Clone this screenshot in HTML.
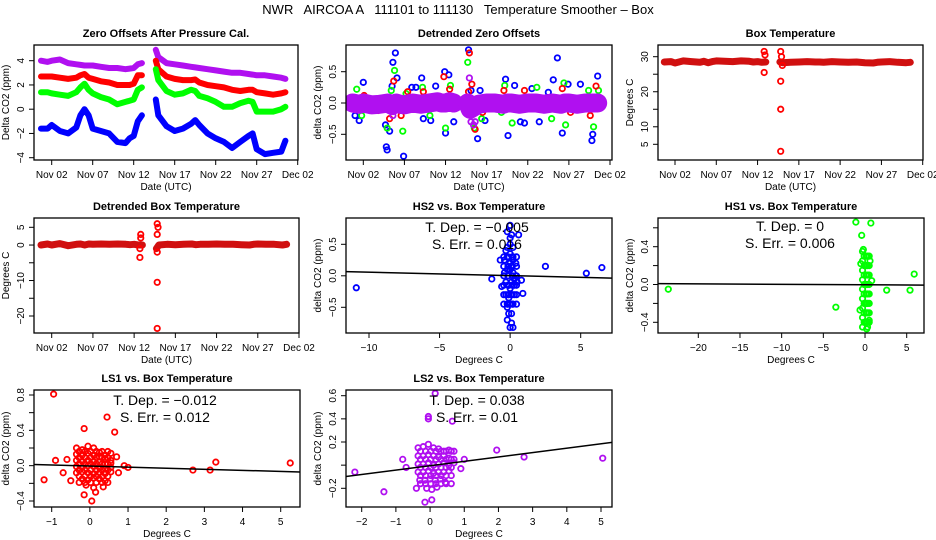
<!DOCTYPE html>
<html><head><meta charset="utf-8">
<style>
html,body{margin:0;padding:0;background:#fff;width:936px;height:540px;overflow:hidden;}
svg{display:block;font-family:"Liberation Sans",sans-serif;}
</style></head>
<body>
<svg id="chart" width="936" height="540" viewBox="0 0 936 540" xmlns="http://www.w3.org/2000/svg">
<rect width="936" height="540" fill="#fff"/>
<text x="458" y="14" text-anchor="middle" font-size="13" style="white-space:pre" xml:space="preserve">NWR   AIRCOA A   111101 to 111130   Temperature Smoother – Box</text>
</svg>
<script>
// ---------- data ----------
const dateTicks = [2,7,12,17,22,27,32];
const dateLabels = ["Nov 02","Nov 07","Nov 12","Nov 17","Nov 22","Nov 27","Dec 02"];
const zoDays1 = [0.7,1.5,2,3,4,5,5.5,6,6.5,7,8,9,10,11,11.5,12,12.5,13];
const zoDays2 = [14.7,15,16,17,18,19,19.5,20,21,22,23,24,25,26,26.5,27,28,29,30,30.5];
const zoPurple1 = [4.0,3.9,4.0,4.1,3.8,3.7,3.65,3.6,3.6,3.6,3.5,3.4,3.4,3.3,3.35,3.4,3.7,3.8];
const zoPurple2 = [4.9,4.3,3.8,3.7,3.6,3.5,3.45,3.4,3.3,3.2,3.1,3.0,3.0,2.9,2.85,2.8,2.8,2.7,2.6,2.5];
const zoRed1 = [2.7,2.7,2.7,2.6,2.5,2.6,2.8,2.9,2.6,2.5,2.3,2.2,2.0,2.0,2.0,2.1,2.8,2.8];
const zoRed2 = [4.0,3.3,2.7,2.5,2.4,2.4,2.45,2.2,2.0,1.9,1.8,1.6,1.5,1.6,1.6,1.4,1.3,1.2,1.3,1.4];
const zoGreen1 = [1.4,1.4,1.3,1.2,1.1,1.4,1.8,2.1,1.6,1.3,1.0,0.8,0.4,0.6,0.7,0.8,1.6,1.8];
const zoGreen2 = [3.3,2.4,1.5,1.2,1.3,1.6,1.5,1.1,0.9,0.6,0.2,0.2,0.5,0.7,0.6,-0.2,-0.2,-0.2,0.0,0.2];
const zoBlue1 = [-1.6,-1.6,-1.3,-1.8,-2.0,-1.5,-0.5,0.0,-0.5,-1.6,-1.8,-2.0,-2.7,-2.8,-2.4,-2.2,-1.0,-0.5];
const zoBlue2 = [0.8,-0.5,-1.4,-1.8,-1.6,-1.2,-0.9,-1.3,-2.0,-2.4,-2.7,-3.2,-2.7,-2.2,-2.0,-3.3,-3.7,-3.6,-3.5,-2.6];
const dzBand1 = [0.0,-0.02,0.0,-0.03,-0.02,0.0,-0.04,0.0,-0.02,-0.03,0.0,-0.02,0.0,0.02,0.0,0.0,0.02,0.0];
const dzBand2 = [0.0,-0.1,-0.02,0.0,0.0,-0.02,0.0,0.0,-0.02,0.0,0.0,-0.02,0.0,-0.02,0.0,0.0,-0.02,0.0,0.0,0.0];
const dzBlueDay = [1,1.5,2,4.7,5.5,4.8,4.9,5.2,5.6,5.9,6.1,6.9,7.9,8.4,9.1,9.3,10.2,10.8,11.9,12.0,12.4,13,14.8,15.1,15.9,16.2,16.8,19.3,19.6,20.4,21.1,21.6,22.5,23.4,25.1,25.6,26.2,26.9,28.4,29.8,29.9,30.5,24.5];
const dzBlueVal = [-0.2,-0.28,0.33,-0.35,0.27,-0.7,-0.75,-0.45,0.65,0.8,0.4,-0.85,0.25,0.25,0.4,-0.25,-0.28,0.27,0.5,-0.48,0.45,-0.3,0.85,0.2,-0.57,0.2,-0.28,0.38,-0.52,0.28,-0.3,-0.32,0.23,-0.3,0.37,0.72,-0.48,0.3,0.3,-0.6,-0.5,0.43,0.17];
const dzGreenDay = [1.2,1.8,4.9,5.4,5.8,6.8,7.2,9.2,10.1,12,12.6,14.7,15.5,16.4,18.8,19.2,20.1,23.1,24.9,26.4,26.6,29.4,30.0,30.6];
const dzGreenVal = [0.22,-0.2,-0.4,0.2,0.52,-0.45,0.15,0.25,-0.2,-0.4,0.28,0.65,-0.4,-0.25,-0.15,0.28,-0.32,0.25,-0.25,0.32,-0.35,0.2,-0.38,0.2];
const dzRedDay = [0.9,2.1,3.8,5.2,5.7,6.6,7.4,9.3,11.8,12.5,14.9,15.2,15.6,16.5,19.1,21.6,24.2,26.2,27.2,29.6,30.3,14.8];
const dzRedVal = [-0.1,0.12,-0.12,-0.25,0.35,-0.2,0.18,0.18,0.42,0.22,0.8,0.3,-0.42,-0.15,0.2,0.2,-0.08,0.23,-0.15,-0.2,0.27,0.18];
const dzPurpleDay = [14.9,15.1,15.4,15.6,5.6];
const dzPurpleVal = [0.4,-0.3,-0.35,-0.3,-0.2];
const btBand1 = [28.5,28.6,28.2,28.8,28.6,28.4,28.7,28.3,28.6,28.8,28.7,28.6,28.8,28.7,28.5,28.6,28.4,28.5];
const btBand2 = [28.5,28.3,28.4,28.5,28.6,28.5,28.5,28.4,28.6,28.5,28.4,28.5,28.3,28.2,28.4,28.5,28.6,28.4,28.3,28.4];
const btSpikeDay = [12.8,12.9,12.8,14.8,14.9,14.8,14.8,14.8,15.0];
const btSpikeVal = [31.5,30.5,25.5,31.5,30.0,23.0,15.0,3.0,27.5];
const dbBand1 = [0.0,0.3,0.0,0.4,-0.2,0.2,0.3,0.0,0.3,0.2,0.3,0.2,0.3,0.2,0.1,0.2,0.0,0.0];
const dbBand2 = [-1.0,0.0,0.2,0.1,0.2,0.3,0.1,0.2,0.2,0.3,0.2,0.2,0.1,0.0,0.2,0.3,0.2,0.2,0.0,0.2];
const dbSpikeDay = [12.8,12.8,12.7,12.7,14.8,14.9,14.8,14.8,14.8,14.8];
const dbSpikeVal = [3,2,-1,-3.5,6,5,3,-2,-10.5,-23.5];
const hs2X = [-0.4,-0.2,0,0.2,0.4,-0.4,-0.2,0,0.2,0.4,-0.3,-0.1,0.1,0.3,0.5,-0.3,-0.1,0.1,0.3,-0.2,0,0.2,-0.2,0,0.2,-0.1,0.1,0,-0.1,0.1,0,-0.2,0.1,-0.3,0.2,0,-0.1,0.3,-0.2,0.1,0.6,-0.7,0.9,0.8,-0.6,0,0.2,-0.2,0,-10.9,-1.3,2.5,5.4,6.5,
  -0.45,-0.15,0.15,0.45,-0.45,-0.15,0.15,0.45,-0.45,-0.15,0.15,0.45,-0.45,-0.15,0.15,0.45,-0.45,-0.15,0.15,0.45,-0.45,-0.15,0.15,0.45];
const hs2Y = [0.25,0.3,0.35,0.25,0.2,0.05,0.1,0.1,0.05,0,-0.1,-0.15,-0.1,-0.15,-0.1,-0.3,-0.3,-0.3,-0.3,-0.45,-0.45,-0.45,0.45,0.5,0.45,-0.6,-0.6,0.6,-0.15,0.15,0.8,0.7,0.65,0.4,0.3,0.2,-0.35,-0.05,-0.7,-0.75,0.65,0.25,-0.28,-0.07,-0.17,-0.82,-0.82,-0.5,-0.2,-0.19,-0.05,0.15,0.04,0.13,
  0.3,0.3,0.3,0.3,0.15,0.15,0.15,0.15,0,0,0,0,-0.15,-0.15,-0.15,-0.15,-0.3,-0.3,-0.3,-0.3,-0.45,-0.45,-0.45,-0.45];
const hs1X = [-0.3,0.3,-0.3,0.3,-0.3,0.3,-0.3,0.3,-0.3,0.3,-0.3,0.3,-0.3,0.3,-0.3,0.3,-0.3,0.3,0,0,0,0,0.6,-0.5,0.8,-0.6,0.5,-23.6,-3.5,2.6,5.4,5.9,-1.1,0.7,-0.4,-0.2,0.2,
  -0.1,0.15,0.5,-0.1,0.15,0.5,-0.1,0.15,0.5,-0.1,0.15,0.5,-0.1,0.15,0.5,-0.1,0.15,0.5,-0.1,0.15,0.5,-0.1,0.15,0.5];
const hs1Y = [0.35,0.3,0.25,0.2,0.15,0.1,0.05,0.0,-0.05,-0.1,-0.15,-0.2,-0.25,-0.3,-0.35,-0.4,-0.45,-0.45,0.2,0.0,-0.2,-0.4,0.25,0.22,0.04,-0.27,-0.38,-0.05,-0.24,-0.06,-0.06,0.11,0.66,0.65,0.52,0.37,-0.47,
  0.3,0.3,0.3,0.2,0.2,0.2,0.1,0.1,0.1,0,0,0,-0.1,-0.1,-0.1,-0.2,-0.2,-0.2,-0.3,-0.3,-0.3,-0.4,-0.4,-0.4];
const ls1X = [-0.35,-0.2,-0.05,0.1,0.25,0.4,0.55,-0.35,-0.2,-0.05,0.1,0.25,0.4,0.55,-0.35,-0.2,-0.05,0.1,0.25,0.4,0.55,-0.35,-0.2,-0.05,0.1,0.25,0.4,0.55,-0.35,-0.2,-0.05,0.1,0.25,0.4,0.55,-0.2,-0.05,0.1,0.25,0.4,-0.1,0.1,-0.95,0.45,0.65,-0.15,-1.2,2.7,3.15,3.3,5.25,-0.9,0.05,-0.15,0.7,0.9,1.0,-0.6,-0.5,0.75,-0.7,0.35,0.15,
  -0.28,-0.13,0.02,0.17,0.32,0.47,-0.28,-0.13,0.02,0.17,0.32,0.47,-0.28,-0.13,0.02,0.17,0.32,0.47,-0.28,-0.13,0.02,0.17,0.32,0.47,-0.28,-0.13,0.02,0.17,0.32,0.47,-0.28,-0.13,0.02,0.17,0.32,0.47];
const ls1Y = [0.2,0.18,0.22,0.2,0.15,0.12,0.14,0.13,0.12,0.14,0.12,0.1,0.08,0.06,0.06,0.05,0.06,0.05,0.04,0.02,0.03,-0.01,-0.02,0.0,-0.01,-0.02,-0.03,-0.02,-0.08,-0.07,-0.08,-0.09,-0.08,-0.09,-0.07,-0.15,-0.16,-0.14,-0.15,-0.17,-0.22,-0.25,0.81,0.55,0.38,0.42,-0.16,-0.05,-0.05,0.04,0.03,0.06,-0.4,-0.33,0.1,0.0,-0.02,0.07,-0.17,-0.08,-0.08,-0.24,-0.3,
  0.16,0.16,0.16,0.16,0.16,0.16,0.09,0.09,0.09,0.09,0.09,0.09,0.02,0.02,0.02,0.02,0.02,0.02,-0.05,-0.05,-0.05,-0.05,-0.05,-0.05,-0.12,-0.12,-0.12,-0.12,-0.12,-0.12,-0.19,-0.19,-0.19,-0.19,-0.19,-0.19];
const ls2X = [-0.35,-0.2,-0.05,0.1,0.25,0.4,0.55,0.7,-0.35,-0.2,-0.05,0.1,0.25,0.4,0.55,0.7,-0.35,-0.2,-0.05,0.1,0.25,0.4,0.55,0.7,-0.35,-0.2,-0.05,0.1,0.25,0.4,0.55,-0.3,-0.15,0,0.15,0.3,0.45,-0.1,0.05,0.2,-2.2,-1.35,-0.8,-0.7,0.15,-0.05,0.65,1.95,2.75,5.05,0.9,1.0,-0.4,-0.15,0.05,-0.05,0.45,
  -0.28,-0.13,0.02,0.17,0.32,0.47,0.62,-0.28,-0.13,0.02,0.17,0.32,0.47,0.62,-0.28,-0.13,0.02,0.17,0.32,0.47,0.62,-0.28,-0.13,0.02,0.17,0.32,0.47,0.62,-0.28,-0.13,0.02,0.17,0.32,0.47,0.62];
const ls2Y = [0.15,0.16,0.18,0.15,0.14,0.12,0.13,0.12,0.08,0.08,0.09,0.08,0.07,0.08,0.06,0.05,0.01,0.01,0.02,0.0,0.01,0.02,0.0,0.02,-0.06,-0.06,-0.05,-0.07,-0.06,-0.06,-0.05,-0.13,-0.13,-0.12,-0.13,-0.12,-0.15,-0.2,-0.21,-0.19,-0.06,-0.23,0.05,-0.02,0.62,0.42,0.38,0.13,0.07,0.06,-0.03,0.05,-0.2,-0.32,-0.3,0.4,-0.15,
  0.12,0.12,0.12,0.12,0.12,0.12,0.12,0.05,0.05,0.05,0.05,0.05,0.05,0.05,-0.02,-0.02,-0.02,-0.02,-0.02,-0.02,-0.02,-0.09,-0.09,-0.09,-0.09,-0.09,-0.09,-0.09,-0.16,-0.16,-0.16,-0.16,-0.16,-0.16,-0.16];
const hs2Fit = [0.003,-0.0055];
const hs1Fit = [-0.003,-0.0005];
const ls1Fit = [-0.005,-0.012];
const ls2Fit = [-0.005,0.038];

// ---------- drawing ----------
const NS = "http://www.w3.org/2000/svg";
const svg = document.getElementById('chart');
function el(tag, attrs, parent){ const e=document.createElementNS(NS,tag); for(const k in attrs) e.setAttribute(k,attrs[k]); (parent||svg).appendChild(e); return e; }
function lin(v1,p1,v2,p2){ return v => p1 + (v-v1)*(p2-p1)/(v2-v1); }

function panel(o){
  const g = el('g',{});
  
  
  o.sx = lin(o.xr[0],o.xr[1],o.xr[2],o.xr[3]);
  o.sy = lin(o.yr[0],o.yr[1],o.yr[2],o.yr[3]);
  const cid = 'clip-'+o.name;
  const cp = el('clipPath',{id:cid},g); el('rect',{x:o.L,y:o.T,width:o.R-o.L,height:o.B-o.T},cp);
  o.plot = el('g',{'clip-path':'url(#'+cid+')'},g);
  
  
  const box = el('rect',{x:o.L,y:o.T,width:o.R-o.L,height:o.B-o.T,fill:'none',stroke:'#000','stroke-width':1.3},g);
  
  
  const t = el('text',{x:(o.L+o.R)/2,y:o.T-8,'text-anchor':'middle','font-size':11,'font-weight':'bold'},g);
  t.textContent = o.title;
  
  
  const xa = el('g',{},g);
  
  
  const xs = o.xticks.map(o.sx);
  el('line',{x1:xs[0],x2:xs[xs.length-1],y1:o.B,y2:o.B,stroke:'#000'},xa);
  o.xticks.forEach((v,i)=>{
    const x=o.sx(v);
    el('line',{x1:x,x2:x,y1:o.B,y2:o.B+5,stroke:'#000'},xa);
    const tl = el('text',{x:x,y:o.B+18,'text-anchor':'middle','font-size':10},xa);
    tl.textContent = o.xlabels[i];
    
    
  });
  const xl = el('text',{x:(o.L+o.R)/2,y:o.B+30,'text-anchor':'middle','font-size':10},g);
  xl.textContent = o.xlab;
  
  
  const ya = el('g',{},g);
  
  
  const ys = o.yticks.map(o.sy);
  el('line',{x1:o.L,x2:o.L,y1:ys[0],y2:ys[ys.length-1],stroke:'#000'},ya);
  o.yticks.forEach((v,i)=>{
    const y=o.sy(v);
    el('line',{x1:o.L-5,x2:o.L,y1:y,y2:y,stroke:'#000'},ya);
    if(o.ylabels[i]!==''){
      const tl = el('text',{x:o.L-10,y:y,'text-anchor':'middle','font-size':10,transform:'rotate(-90 '+(o.L-10)+' '+y+')'},ya);
      tl.textContent = o.ylabels[i];
      
      
    }
  });
  const yx = o.L-25, yy=(o.T+o.B)/2;
  const yl = el('text',{x:yx,y:yy,'text-anchor':'middle','font-size':10,transform:'rotate(-90 '+yx+' '+yy+')'},g);
  yl.textContent = o.ylab;
  
  
  return o;
}
function band(o, days, vals, color, w, name){
  const pts = days.map((d,i)=>o.sx(d).toFixed(1)+','+o.sy(vals[i]).toFixed(1)).join(' ');
  const p = el('polyline',{points:pts,fill:'none',stroke:color,'stroke-width':w,'stroke-linejoin':'round','stroke-linecap':'round'},o.plot);
  
  
}
function points(o, xs, ys, color, name){
  xs.forEach((x,i)=>{
    const c = el('circle',{cx:o.sx(x),cy:o.sy(ys[i]),r:2.7,fill:'none',stroke:color,'stroke-width':1.8},o.plot);
    
    
  });
}
function fit(o, f, name){
  const x0=o.xr[0]-100, x1=o.xr[2]+100;
  const l = el('line',{x1:o.sx(x0),y1:o.sy(f[0]+f[1]*x0),x2:o.sx(x1),y2:o.sy(f[0]+f[1]*x1),stroke:'#000','stroke-width':1.5},o.plot);
  
  
}
function stats(o, cx, y1, t1, t2){
  const a = el('text',{x:cx,y:y1,'text-anchor':'middle','font-size':14},o.plot.parentNode);
  a.textContent = t1;
  
  
  const b = el('text',{x:cx,y:y1+17,'text-anchor':'middle','font-size':14},o.plot.parentNode);
  b.textContent = t2;
  
  
}
const PUR='#b010f0', RED='#ff0000', GRN='#00ff00', BLU='#0000ff';

const p1 = panel({name:'zero-offsets-panel',L:34,T:45,R:298,B:160,xr:[2,51.7,32,297.7],yr:[4,60.7,-4,157.7],
  xticks:dateTicks,xlabels:dateLabels,yticks:[-4,-2,0,2,4],ylabels:['−4','−2','0','2','4'],
  title:'Zero Offsets After Pressure Cal.',xlab:'Date (UTC)',ylab:'Delta CO2 (ppm)'});
[[zoPurple1,zoPurple2,PUR,'purple'],[zoRed1,zoRed2,RED,'red'],[zoGreen1,zoGreen2,GRN,'green'],[zoBlue1,zoBlue2,BLU,'blue']].forEach(s=>{
  band(p1,zoDays1,s[0],s[2],6,'zero-offset-'+s[3]+'-series');
  band(p1,zoDays2,s[1],s[2],6,'zero-offset-'+s[3]+'-series');
});
const p2 = panel({name:'detrended-zero-offsets-panel',L:346,T:45,R:612,B:160,xr:[2,363.3,32,610],yr:[0.5,71.7,-0.5,134.3],
  xticks:dateTicks,xlabels:dateLabels,yticks:[-0.5,0,0.5],ylabels:['−0.5','0.0','0.5'],
  title:'Detrended Zero Offsets',xlab:'Date (UTC)',ylab:'delta CO2 (ppm)'});
points(p2,dzBlueDay,dzBlueVal,BLU,'detrended-blue-point');
points(p2,dzGreenDay,dzGreenVal,GRN,'detrended-green-point');
points(p2,dzRedDay,dzRedVal,RED,'detrended-red-point');
band(p2,zoDays1,dzBand1,PUR,19,'detrended-purple-band');
band(p2,zoDays2,dzBand2,PUR,19,'detrended-purple-band');
points(p2,dzPurpleDay,dzPurpleVal,PUR,'detrended-purple-point');
const p3 = panel({name:'box-temperature-panel',L:658,T:45,R:923,B:160,xr:[2,675,32,922.7],yr:[30,56.7,5,144.3],
  xticks:dateTicks,xlabels:dateLabels,yticks:[5,10,15,20,25,30],ylabels:['5','10','','20','','30'],
  title:'Box Temperature',xlab:'Date (UTC)',ylab:'Degrees C'});
band(p3,zoDays1,btBand1,'#d01010',7,'box-temperature-series');
band(p3,zoDays2,btBand2,'#d01010',7,'box-temperature-series');
points(p3,btSpikeDay,btSpikeVal,RED,'box-temperature-spike');
const p4 = panel({name:'detrended-box-temperature-panel',L:34,T:218,R:299,B:333,xr:[2,51.7,32,299],yr:[5,227.3,-20,316],
  xticks:dateTicks,xlabels:dateLabels,yticks:[-20,-15,-10,-5,0,5],ylabels:['−20','','−10','','0','5'],
  title:'Detrended Box Temperature',xlab:'Date (UTC)',ylab:'Degrees C'});
band(p4,zoDays1,dbBand1,'#d01010',7,'detrended-box-temperature-series');
band(p4,zoDays2,dbBand2,'#d01010',7,'detrended-box-temperature-series');
points(p4,dbSpikeDay,dbSpikeVal,RED,'detrended-box-temperature-spike');
const p5 = panel({name:'hs2-vs-box-temperature-panel',L:346,T:218,R:612,B:333,xr:[-10,369,5,580.7],yr:[0.5,244.3,-0.5,307.3],
  xticks:[-10,-5,0,5],xlabels:['−10','−5','0','5'],yticks:[-0.5,0,0.5],ylabels:['−0.5','0.0','0.5'],
  title:'HS2 vs. Box Temperature',xlab:'Degrees C',ylab:'delta CO2 (ppm)'});
points(p5,hs2X,hs2Y,BLU,'hs2-point');
fit(p5,hs2Fit,'hs2-regression-line');
stats(p5,477,232,'T. Dep. =  −0.005','S. Err. =  0.016');
const p6 = panel({name:'hs1-vs-box-temperature-panel',L:658,T:218,R:924,B:333,xr:[-20,698.3,5,906.7],yr:[0.4,246.7,-0.4,322.3],
  xticks:[-20,-15,-10,-5,0,5],xlabels:['−20','−15','−10','−5','0','5'],yticks:[-0.4,-0.2,0,0.2,0.4,0.6],ylabels:['−0.4','','0.0','','0.4',''],
  title:'HS1 vs. Box Temperature',xlab:'Degrees C',ylab:'delta CO2 (ppm)'});
points(p6,hs1X,hs1Y,GRN,'hs1-point');
fit(p6,hs1Fit,'hs1-regression-line');
stats(p6,790,231,'T. Dep. =  0','S. Err. =  0.006');
const p7 = panel({name:'ls1-vs-box-temperature-panel',L:34,T:390,R:300,B:507,xr:[-1,51.7,5,280.7],yr:[0.8,395,-0.4,501],
  xticks:[-1,0,1,2,3,4,5],xlabels:['−1','0','1','2','3','4','5'],yticks:[-0.4,-0.2,0,0.2,0.4,0.6,0.8],ylabels:['−0.4','','0.0','','0.4','','0.8'],
  title:'LS1 vs. Box Temperature',xlab:'Degrees C',ylab:'delta CO2 (ppm)'});
points(p7,ls1X,ls1Y,RED,'ls1-point');
fit(p7,ls1Fit,'ls1-regression-line');
stats(p7,165,405,'T. Dep. =  −0.012','S. Err. =  0.012');
const p8 = panel({name:'ls2-vs-box-temperature-panel',L:346,T:390,R:612,B:507,xr:[-2,361.7,5,601],yr:[0.6,395.7,-0.2,488.3],
  xticks:[-2,-1,0,1,2,3,4,5],xlabels:['−2','−1','0','1','2','3','4','5'],yticks:[-0.2,0,0.2,0.4,0.6],ylabels:['−0.2','','0.2','0.4','0.6'],
  title:'LS2 vs. Box Temperature',xlab:'Degrees C',ylab:'delta CO2 (ppm)'});
points(p8,ls2X,ls2Y,PUR,'ls2-point');
fit(p8,ls2Fit,'ls2-regression-line');
stats(p8,477,405,'T. Dep. =  0.038','S. Err. =  0.01');
</script>
</body></html>
